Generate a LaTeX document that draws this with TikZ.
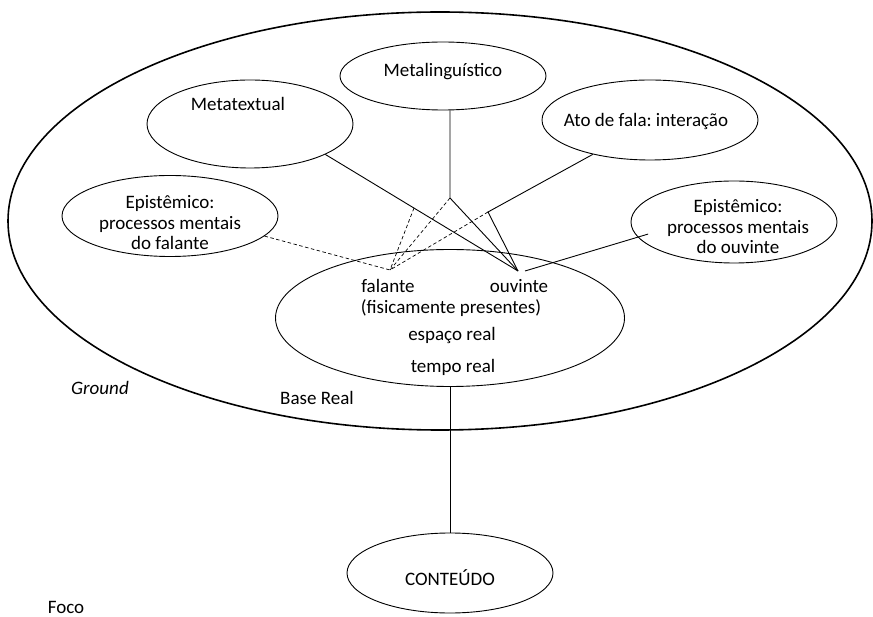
\documentclass[tikz,border=0pt]{standalone}
\usepackage{fontspec}
\setmainfont{Carlito}
\usetikzlibrary{shapes.geometric,calc}
\frenchspacing
\begin{document}
\begin{tikzpicture}[x=1pt,y=-1pt,
  oval/.style={draw,ellipse,inner sep=0pt,line width=0.9pt},
  lbl/.style={font=\fontsize{19}{20.5}\selectfont,inner sep=0pt,align=center},
  link/.style={line width=0.9pt},
  dlink/.style={line width=0.7pt,dash pattern=on 3.5pt off 2.5pt}]
\useasboundingbox (0,0) rectangle (873,617);

% outer ground ellipse
\node[oval,line width=1.6pt,minimum width=864pt,minimum height=418pt] (ground) at (440,221) {};

% inner ellipses
\node[oval,minimum width=206pt,minimum height=68pt] (mlg) at (443,76) {};
\node[oval,minimum width=206pt,minimum height=88pt] (mtx) at (250,124) {};
\node[oval,minimum width=216pt,minimum height=80pt] (ato) at (650,120) {};
\node[oval,minimum width=216pt,minimum height=81pt] (efa) at (170,216) {};
\node[oval,minimum width=206pt,minimum height=82pt] (eou) at (734,222) {};
\node[oval,minimum width=349pt,minimum height=137pt] (base) at (450,318) {};
\node[oval,minimum width=206pt,minimum height=80pt] (cnt) at (450,573) {};

% texts
\node[lbl] (tmlg) at (443,72) {Metalinguístico};
\node[lbl] (tmtx) at (238,104) {Metatextual};
\node[lbl] (tato) at (646,122) {Ato de fala: interação};
\node[lbl] (tefa) at (170,223) {Epistêmico:\\processos mentais\\do falante};
\node[lbl] (teou) at (738,227) {Epistêmico:\\processos mentais\\do ouvinte};
\node[lbl] (tfal) at (388,286) {falante};
\node[lbl] (touv) at (519,286) {ouvinte};
\node[lbl] (tfis) at (451,308) {(fisicamente presentes)};
\node[lbl] (tesp) at (452,336) {espaço real};
\node[lbl] (ttmp) at (453,367) {tempo real};
\node[lbl] (tcnt) at (450,578) {CONTEÚDO};
\node[lbl,font=\fontsize{19}{20.5}\selectfont\itshape] (tgrd) at (100,388) {Ground};
\node[lbl] (tbas) at (317,398) {Base Real};
\node[lbl] (tfoc) at (66,607) {Foco};

% meeting points above speaker and hearer
\coordinate (pf) at (390,270);
\coordinate (po) at (518,271);
\coordinate (poe) at (525,271);
\coordinate (jm) at (450,198);
\coordinate (ja) at (488,212);

% solid connectors to the hearer
\draw[link] (mtx.-22.6) -- coordinate[pos=0.46] (jt) (po);
\draw[link] (mlg.south -| jm) -- (jm) -- (po);
\draw[link] (ato.-149.2) -- (ja) -- (po);
\draw[link] (poe) -- ($(eou.center)!0.88!(eou.-172)$);

% dashed connectors to the speaker
\draw[dlink] (efa.-12.5) -- (pf);
\draw[dlink] (jt) -- (pf);
\draw[dlink] (jm) -- (pf);
\draw[dlink] (ja) -- (pf);

% base to content
\draw[link] (base.south) -- (cnt.north);
\end{tikzpicture}
\end{document}
